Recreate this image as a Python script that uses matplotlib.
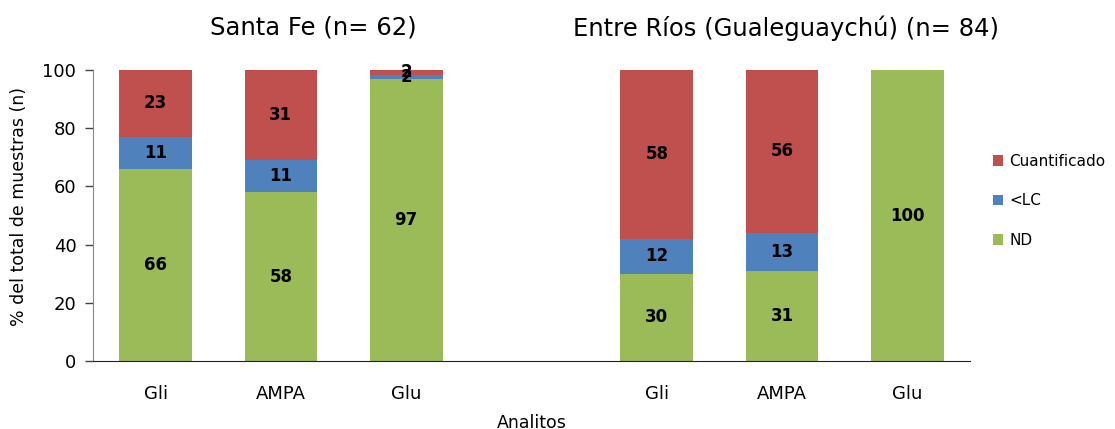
import matplotlib
matplotlib.use("Agg")
import matplotlib.pyplot as plt
import numpy as np

plt.rcParams["font.family"] = ["DejaVu Sans"]

# categories (empty slot separates the two sites)
categories = ["Gli", "AMPA", "Glu", "", "Gli", "AMPA", "Glu"]
nd = [66, 58, 96.8, 0, 30, 31, 100]
lc = [11, 11, 1.6, 0, 12, 13, 0]
cuant = [23, 31, 1.6, 0, 58, 56, 0]

titles = ["Santa Fe (n= 62)", "Entre Ríos (Gualeguaychú) (n= 84)"]
title_x = [1.26, 5.03]

GREEN = "#9BBB59"
BLUE = "#4F81BD"
RED = "#C0504D"

fig = plt.figure(figsize=(11.15, 4.29), dpi=100)
ax = fig.add_axes([0.0834, 0.1585, 0.7866, 0.6783])

x = np.arange(len(categories))
w = 0.58
nd_a = np.array(nd)
lc_a = np.array(lc)
cu_a = np.array(cuant)
mask = np.array([c != "" for c in categories])

ax.bar(x[mask], nd_a[mask], w, color=GREEN, label="ND")
ax.bar(x[mask], lc_a[mask], w, bottom=nd_a[mask], color=BLUE, label="<LC")
ax.bar(x[mask], cu_a[mask], w, bottom=(nd_a + lc_a)[mask], color=RED, label="Cuantificado")

# value labels
for i in x[mask]:
    bottom = 0
    for v in (nd_a[i], lc_a[i], cu_a[i]):
        if v > 0:
            ax.text(i, bottom + v / 2, f"{v:.0f}", ha="center", va="center",
                    fontsize=12, fontweight="bold", color="black")
        bottom += v

ax.set_xlim(-0.5, 6.5)
ax.set_ylim(0, 100)
ax.set_yticks(range(0, 101, 20))
ax.set_xticks(x)
ax.set_xticklabels(categories)
ax.tick_params(axis="x", length=0, pad=17, labelsize=13)
ax.tick_params(axis="y", length=6, width=1, labelsize=13, color="#444444", pad=6)
for s in ("top", "right"):
    ax.spines[s].set_visible(False)
ax.spines["left"].set_color("#888888")
ax.spines["bottom"].set_color("#222222")

ax.set_ylabel("% del total de muestras (n)", fontsize=12.5)
ax.yaxis.set_label_coords(-0.074, 0.53)
ax.set_xlabel("Analitos", fontsize=12.5, labelpad=8)

for t, tx in zip(titles, title_x):
    ax.text(tx, 114.5, t, ha="center", va="center", fontsize=17.5,
            transform=ax.transData, clip_on=False)

handles, labels = ax.get_legend_handles_labels()
ax.legend(handles[::-1], labels[::-1], loc="center left",
          bbox_to_anchor=(1.01, 0.55), frameon=False, fontsize=11,
          handlelength=0.7, handleheight=0.7, labelspacing=1.6,
          handletextpad=0.4)

fig.savefig("out.png", dpi=100)
